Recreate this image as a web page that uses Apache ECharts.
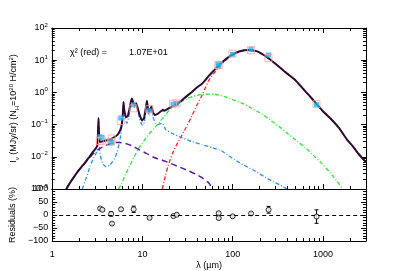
<!DOCTYPE html>
<html><head><meta charset="utf-8">
<script src="https://cdn.jsdelivr.net/npm/echarts@6/dist/echarts.min.js"></script>
<style>html,body{margin:0;padding:0;background:#fff}#c{width:407px;height:271px}</style>
</head><body><div id="c"></div>
<script>
// ---- model curves [wavelength (um), I_nu (MJy/sr)] ----
const totalModel = [[1.45,0.001],[1.6,0.0016],[1.75,0.0023],[2.0,0.0039],[2.3,0.0063],[2.6,0.0098],[2.9,0.015],[3.1,0.019],[3.2,0.023],[3.25,0.06],[3.29,0.16],[3.33,0.06],[3.38,0.029],[3.6,0.03],[4.0,0.032],[4.5,0.035],[5.0,0.042],[5.4,0.05],[5.7,0.065],[5.95,0.1],[6.1,0.2],[6.22,0.5],[6.35,0.28],[6.6,0.17],[6.9,0.18],[7.2,0.28],[7.5,0.5],[7.7,0.65],[7.95,0.5],[8.25,0.4],[8.6,0.46],[9.0,0.3],[9.5,0.18],[10.0,0.135],[10.5,0.16],[11.0,0.33],[11.3,0.55],[11.6,0.32],[12.0,0.26],[12.7,0.37],[13.2,0.24],[13.8,0.2],[15,0.22],[16.5,0.27],[17,0.29],[17.5,0.27],[20,0.33],[25,0.45],[30,0.7],[35,1.0],[40,1.4],[46,1.85],[50,2.4],[55,3.3],[60,4.3],[70,6.75],[85,11],[100,15],[120,19],[150,20.8],[180,19.5],[200,17.3],[220,14.8],[250,11.5],[280,9.0],[350,5.35],[400,3.9],[500,2.35],[600,1.32],[700,0.82],[850,0.44],[1000,0.26],[1200,0.16],[1500,0.08],[1850,0.034],[2150,0.021],[2500,0.012],[3000,0.0068]];
const bigGrains = [[16.7,0.001],[18,0.0024],[19.6,0.0058],[22,0.014],[25,0.029],[29.6,0.068],[35,0.17],[40,0.38],[46.4,0.85],[50,1.4],[55,2.4],[60,3.4],[70,5.9],[85,10.3],[100,14.3],[120,18.2],[150,20.4],[180,19.2],[200,17.1],[220,14.6],[250,11.3],[280,8.9],[350,5.3],[400,3.85],[500,2.32],[600,1.31],[700,0.82],[850,0.43],[1000,0.26],[1200,0.16],[1500,0.08],[1850,0.034],[2150,0.021],[2500,0.012],[3000,0.0068]];
const verySmallGrains = [[5.5,0.001],[6.0,0.0016],[6.5,0.0027],[7.5,0.0062],[8.3,0.011],[9.1,0.018],[10,0.026],[11.6,0.046],[13.6,0.077],[16,0.13],[18,0.2],[20.5,0.3],[25,0.45],[31,0.63],[38,0.78],[46,0.86],[55,0.88],[65,0.86],[80,0.75],[100,0.6],[130,0.45],[160,0.33],[218,0.2],[270,0.13],[330,0.085],[400,0.055],[500,0.033],[630,0.02],[800,0.0105],[950,0.0066],[1200,0.0032],[1400,0.0019],[1650,0.001]];
const pahModel = [[2.17,0.001],[2.4,0.0022],[2.66,0.0052],[2.9,0.009],[3.1,0.013],[3.2,0.019],[3.25,0.05],[3.29,0.14],[3.33,0.05],[3.38,0.017],[3.5,0.009],[3.7,0.0058],[4.0,0.0049],[4.4,0.0055],[4.7,0.007],[5.0,0.009],[5.3,0.0145],[5.6,0.028],[5.8,0.048],[6.0,0.11],[6.22,0.45],[6.4,0.22],[6.6,0.13],[6.8,0.11],[7.1,0.17],[7.4,0.36],[7.7,0.58],[7.95,0.44],[8.25,0.35],[8.6,0.41],[9.0,0.25],[9.5,0.13],[10.1,0.095],[10.6,0.12],[11.0,0.28],[11.3,0.48],[11.6,0.26],[12.0,0.2],[12.7,0.3],[13.2,0.17],[14.0,0.11],[15.0,0.1],[16.5,0.11],[17.2,0.1],[18.2,0.07],[21,0.055],[26,0.042],[35,0.03],[46,0.024],[60,0.019],[75,0.0155],[90,0.011],[105,0.0082],[130,0.0057],[170,0.0039],[220,0.0025],[280,0.0017],[340,0.0013],[400,0.001]];
const nirContinuum = [[1.44,0.001],[1.6,0.0016],[1.8,0.0026],[2.0,0.0038],[2.3,0.0061],[2.6,0.0092],[3.0,0.014],[3.4,0.018],[3.9,0.022],[4.5,0.026],[5.5,0.028],[6.5,0.026],[8,0.021],[9.1,0.017],[11,0.013],[13.6,0.0095],[17,0.0077],[20.5,0.0063],[25,0.005],[31,0.0039],[40,0.0028],[46.4,0.0022],[55,0.0015],[60,0.001]];

// ---- observations ----
const bandWave     = [3.4, 3.6, 4.5, 4.6, 5.8, 8.0, 12, 22, 24, 70, 70, 100, 160, 250, 850];
const observed     = [0.042, 0.040, 0.030, 0.028, 0.16, 0.41, 0.27, 0.43, 0.45, 8.0, 6.3, 15.2, 21.8, 14.5, 0.41];
const modelInBand  = [0.031, 0.032, 0.029, 0.037, 0.13, 0.32, 0.30, 0.45, 0.45, 7.0, 7.0, 16.0, 20.5, 11.6, 0.43];
const residual     = [25, 20, 4, -33, 22, 22, -11, -4, 1, 7, -12, -5, 6, 20, -6];
const residualErr  = [4, 4, 8, 4, 5, 12, 4, 4, 4, 5, 5, 4, 4, 13, 26];

// ---- axis ticks ----
const xTickLabels = [1, 10, 100, 1000];
const resTicks = [-100, -50, 0, 50, 100];
const chiText = 'χ² (red) =';
const chiValue = '1.07E+01';

const FONT = 'Liberation Sans';
const pairs = (xs, ys) => xs.map((x, i) => [x, ys[i]]);
const supLabel = v => { const e = Math.round(Math.log10(v)); return '{b|10}{s|' + (e < 0 ? '−' + (-e) : e) + '}'; };
const line = {color: '#000', width: 1};
const baseAxis = (extra) => Object.assign({
  axisLine: {show: true, onZero: false, lineStyle: line},
  axisTick: {show: true, inside: true, length: 5, lineStyle: line},
  minorTick: {show: true, splitNumber: 9, length: 3, lineStyle: line},
  axisLabel: {show: false},
  splitLine: {show: false}, minorSplitLine: {show: false}
}, extra);

const chart = echarts.init(document.getElementById('c'));
chart.setOption({
  animation: false,
  backgroundColor: '#fff',
  textStyle: {fontFamily: FONT},
  grid: [
    {left: 40, top: 28, width: 326, height: 161},
    {left: 40, top: 189, width: 326, height: 54}
  ],
  xAxis: [
    baseAxis({gridIndex: 0, type: 'log', min: 1, max: 3000, position: 'bottom'}),
    baseAxis({gridIndex: 0, type: 'log', min: 1, max: 3000, position: 'top'}),
    baseAxis({gridIndex: 1, type: 'log', min: 1, max: 3000, position: 'bottom',
      axisLabel: {show: true, fontSize: 9, color: '#000', margin: 9, showMaxLabel: false,
        formatter: v => xTickLabels.indexOf(v) >= 0 ? String(v) : ''},
      name: 'λ (µm)', nameLocation: 'middle', nameGap: 20, nameTextStyle: {fontSize: 9, color: '#000'}}),
  ],
  yAxis: [
    baseAxis({gridIndex: 0, type: 'log', min: 0.001, max: 100, position: 'left',
      axisLabel: {show: true, color: '#000', margin: 4, formatter: supLabel,
        rich: {b: {fontSize: 9, lineHeight: 12}, s: {fontSize: 6, lineHeight: 6, verticalAlign: 'top'}}},
      name: '{t|I}{sub|ν}{t| (MJy/sr) (N}{sub|H}{t|=10}{sup|20}{t| H/cm}{sup|2}{t|)}',
      nameLocation: 'middle', nameRotate: 90, nameGap: 27,
      nameTextStyle: {color: '#000', rich: {t: {fontSize: 9, lineHeight: 12}, sub: {fontSize: 6, lineHeight: 6, verticalAlign: 'bottom'}, sup: {fontSize: 6, lineHeight: 6, verticalAlign: 'top'}}}}),
    baseAxis({gridIndex: 0, type: 'log', min: 0.001, max: 100, position: 'right'}),
    baseAxis({gridIndex: 1, type: 'value', min: -100, max: 100, interval: 50, position: 'left',
      minorTick: {show: true, splitNumber: 5, length: 3, lineStyle: line},
      axisLabel: {show: true, fontSize: 9, color: '#000', margin: 4,
        formatter: v => resTicks.indexOf(v) >= 0 ? (v < 0 ? '−' + (-v) : String(v)) : ''},
      name: 'Residuals (%)', nameLocation: 'middle', nameRotate: 90, nameGap: 27,
      nameTextStyle: {fontSize: 9, color: '#000'}}),
    baseAxis({gridIndex: 1, type: 'value', min: -100, max: 100, interval: 50, position: 'right',
      minorTick: {show: true, splitNumber: 5, length: 3, lineStyle: line}})
  ],
  graphic: [
    {type: 'text', left: 70, top: 48, style: {text: chiText, font: '9px Liberation Sans', fill: '#000'}},
    {type: 'text', left: 129, top: 48, style: {text: chiValue, font: '9px Liberation Sans', fill: '#000'}}
  ],
  series: [
    {type: 'line', xAxisIndex: 0, yAxisIndex: 0, data: verySmallGrains, showSymbol: false, smooth: 0.3,
      lineStyle: {color: '#22ee33', width: 1.3, type: [4, 2, 1, 2]}},
    {type: 'line', xAxisIndex: 0, yAxisIndex: 0, data: bigGrains, showSymbol: false, smooth: 0.3,
      lineStyle: {color: '#ff2222', width: 1.3, type: [4, 2, 1, 2]}},
    {type: 'line', xAxisIndex: 0, yAxisIndex: 0, data: pahModel, showSymbol: false, smooth: 0.12,
      lineStyle: {color: '#2b8ff5', width: 1.3, type: [4, 2, 1, 2]}},
    {type: 'line', xAxisIndex: 0, yAxisIndex: 0, data: nirContinuum, showSymbol: false, smooth: 0.3,
      lineStyle: {color: '#5a1aa0', width: 1.5, type: [6, 4]}},
    {type: 'line', xAxisIndex: 0, yAxisIndex: 0, data: totalModel, showSymbol: false, smooth: 0.12,
      lineStyle: {color: '#2d0b33', width: 2}},
    {type: 'scatter', xAxisIndex: 0, yAxisIndex: 0, data: pairs(bandWave, observed), symbol: 'rect', symbolSize: 5,
      itemStyle: {color: '#1cb8f0'}, z: 5},
    {type: 'scatter', xAxisIndex: 0, yAxisIndex: 0, data: pairs(bandWave, modelInBand), symbol: 'rect', symbolSize: 7,
      itemStyle: {color: 'rgba(0,0,0,0)', borderColor: '#ffa0a0', borderWidth: 1}, z: 6},
    {type: 'custom', xAxisIndex: 2, yAxisIndex: 2,
      data: bandWave.map((w, i) => [w, residual[i], residualErr[i]]),
      renderItem: (params, api) => {
        const hi = api.coord([api.value(0), api.value(1) + api.value(2)]);
        const lo = api.coord([api.value(0), api.value(1) - api.value(2)]);
        const st = {stroke: '#000', lineWidth: 1};
        return {type: 'group', children: [
          {type: 'line', shape: {x1: hi[0], y1: hi[1], x2: lo[0], y2: lo[1]}, style: st},
          {type: 'line', shape: {x1: hi[0] - 2, y1: hi[1], x2: hi[0] + 2, y2: hi[1]}, style: st},
          {type: 'line', shape: {x1: lo[0] - 2, y1: lo[1], x2: lo[0] + 2, y2: lo[1]}, style: st}
        ]};
      }, z: 3},
    {type: 'scatter', xAxisIndex: 2, yAxisIndex: 2, data: pairs(bandWave, residual), symbol: 'circle', symbolSize: 5,
      itemStyle: {color: '#fff', borderColor: '#000', borderWidth: 1}, z: 4,
      markLine: {silent: true, symbol: 'none', label: {show: false},
        lineStyle: {color: '#000', width: 1, type: [4, 3]}, data: [{yAxis: 0}]}}
  ]
});
</script></body></html>
